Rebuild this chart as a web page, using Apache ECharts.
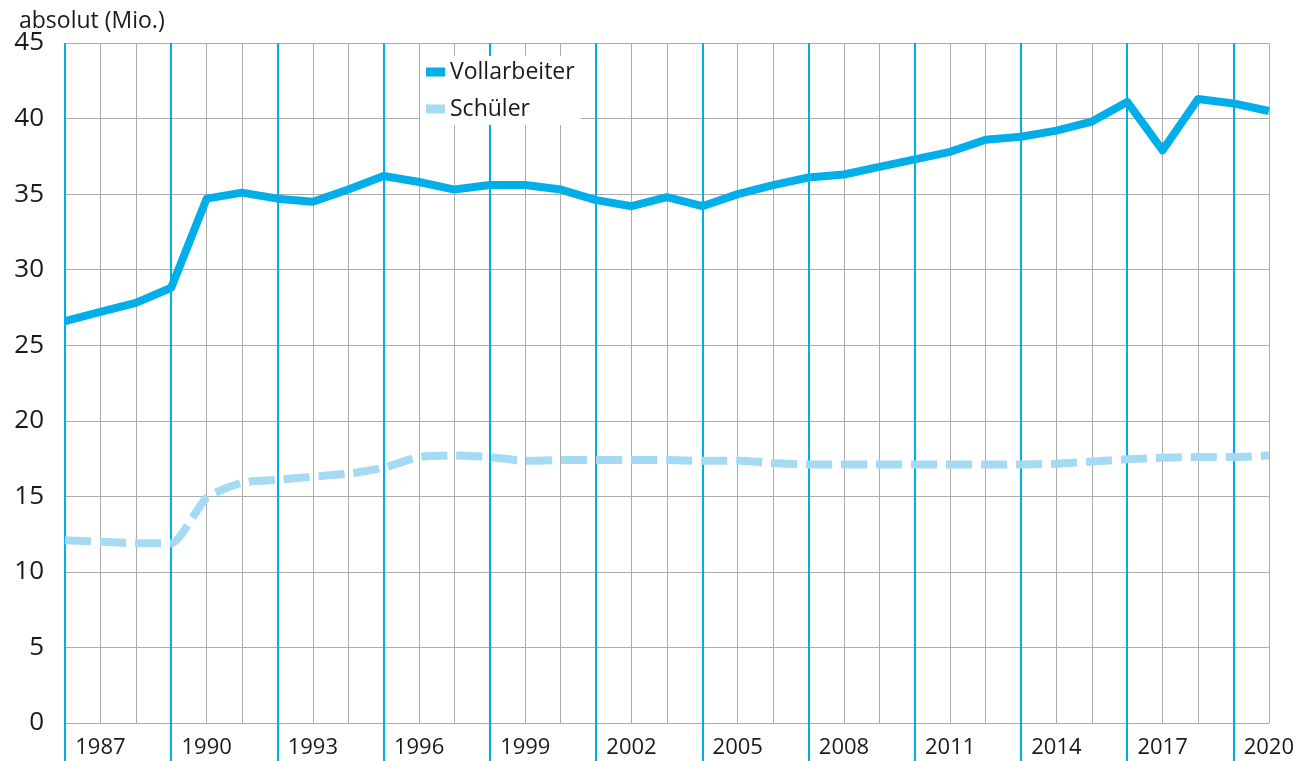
<!DOCTYPE html>
<html>
<head>
<meta charset="utf-8">
<script src="https://cdn.jsdelivr.net/npm/echarts@6/dist/echarts.min.js"></script>
<style>
  html, body { margin: 0; padding: 0; background: #fff; }
  #chart { width: 1297px; height: 761px; }
</style>
</head>
<body>
<div id="chart"></div>
<script>
// Jahre 1986 - 2020
var years = ['1986', '1987', '1988', '1989', '1990', '1991', '1992', '1993', '1994', '1995',
    '1996', '1997', '1998', '1999', '2000', '2001', '2002', '2003', '2004', '2005',
    '2006', '2007', '2008', '2009', '2010', '2011', '2012', '2013', '2014', '2015',
    '2016', '2017', '2018', '2019', '2020'];

var vollarbeiter = [26.6, 27.2, 27.8, 28.8, 34.7, 35.1, 34.7, 34.5, 35.3, 36.2,
    35.8, 35.3, 35.6, 35.6, 35.3, 34.6, 34.2, 34.8, 34.2, 35.0,
    35.6, 36.1, 36.3, 36.8, 37.3, 37.8, 38.6, 38.8, 39.2, 39.8,
    41.1, 37.9, 41.3, 41.0, 40.5];

var schueler = [12.1, 12.0, 11.9, 11.9, 14.9, 15.9, 16.1, 16.3, 16.5, 16.9,
    17.6, 17.7, 17.6, 17.35, 17.4, 17.4, 17.4, 17.4, 17.35, 17.35,
    17.2, 17.1, 17.1, 17.1, 17.1, 17.1, 17.1, 17.1, 17.15, 17.3,
    17.45, 17.55, 17.6, 17.6, 17.7];

var blue = '#00aeea';
var lightBlue = '#a5daf5';
var gridGray = '#acacac';
var textColor = '#1a1a1a';
var font = 'Open Sans';

var myChart = echarts.init(document.getElementById('chart'));

var option = {
    backgroundColor: '#fff',
    animation: false,
    title: {
        text: 'absolut (Mio.)',
        left: 14,
        top: 5,
        textStyle: { fontFamily: font, fontSize: 23, fontWeight: 'normal', color: textColor }
    },
    legend: {
        orient: 'vertical',
        left: 420,
        top: 56,
        padding: [3, 6],
        itemGap: 11,
        itemWidth: 19,
        itemHeight: 9,
        icon: 'rect',
        backgroundColor: '#fff',
        textStyle: { fontFamily: font, fontSize: 23, color: textColor, lineHeight: 26 },
        data: ['Vollarbeiter', 'Schüler']
    },
    grid: { left: 65, right: 28, top: 43, bottom: 38, containLabel: false },
    xAxis: [{
        type: 'category',
        boundaryGap: false,
        data: years,
        axisLine: { lineStyle: { color: gridGray, width: 1 } },
        axisTick: {
            show: true,
            interval: function (i) { return i % 3 === 0; },
            length: 38,
            lineStyle: { color: blue, width: 2 }
        },
        axisLabel: {
            interval: function (i) { return i % 3 === 1; },
            margin: 14,
            fontFamily: font,
            fontSize: 22,
            color: textColor
        },
        splitLine: { show: true, interval: 0, lineStyle: { color: gridGray, width: 1 } }
    }, {
        type: 'category',
        boundaryGap: false,
        data: years,
        position: 'bottom',
        axisLine: { show: false },
        axisTick: { show: false },
        axisLabel: { show: false },
        splitLine: {
            show: true,
            interval: function (i) { return i % 3 === 0; },
            lineStyle: { color: blue, width: 2 }
        }
    }],
    yAxis: {
        type: 'value',
        min: 0,
        max: 45,
        interval: 5,
        axisLine: { show: false },
        axisTick: { show: false },
        axisLabel: { margin: 21, fontFamily: font, fontSize: 26, color: textColor },
        splitLine: { lineStyle: { color: gridGray, width: 1 } }
    },
    series: [{
        name: 'Vollarbeiter',
        type: 'line',
        data: vollarbeiter,
        symbol: 'none',
        color: blue,
        lineStyle: { width: 8, color: blue, join: 'round' },
        z: 3
    }, {
        name: 'Schüler',
        type: 'line',
        data: schueler,
        symbol: 'none',
        smooth: 0.2,
        color: lightBlue,
        lineStyle: { width: 8, color: lightBlue, type: [26, 9], cap: 'butt' },
        z: 2
    }]
};

myChart.setOption(option);
</script>
</body>
</html>
